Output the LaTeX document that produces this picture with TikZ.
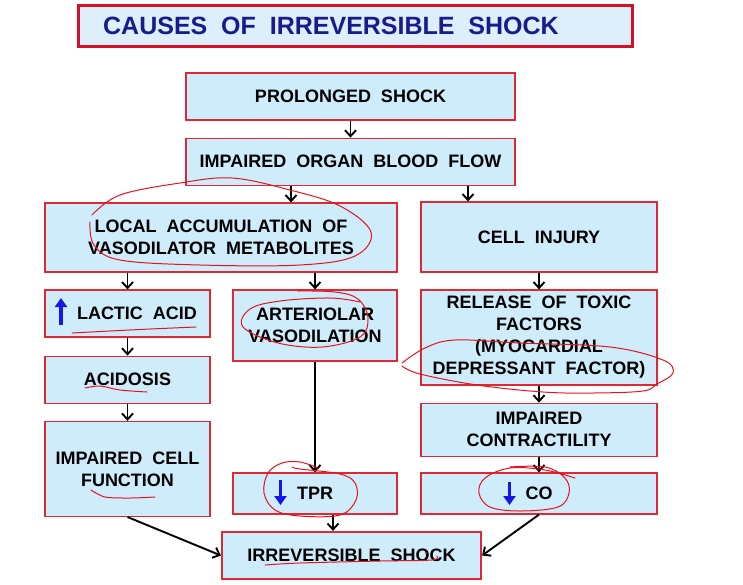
\documentclass[tikz,border=0pt]{standalone}
\usepackage{fontspec}
\setmainfont{Liberation Sans}[WordSpace=2]
\usepackage{xcolor}
\usepackage{tikz}
\usetikzlibrary{arrows.meta, positioning, calc}

\definecolor{boxfill}{RGB}{206,236,250}
\definecolor{titlefill}{RGB}{222,239,252}
\definecolor{boxred}{RGB}{222,40,52}
\definecolor{titlered}{RGB}{212,16,40}
\definecolor{navytext}{RGB}{26,26,140}
\definecolor{arrowblue}{RGB}{22,22,235}
\definecolor{penred}{RGB}{232,18,30}

\begin{document}
\begin{tikzpicture}[
    x=1pt, y=-1pt,
    box/.style={rectangle, draw=boxred, fill=boxfill, line width=1.2pt, inner sep=0pt, align=center, font=\bfseries\fontsize{18}{22}\selectfont},
    arrow/.style={-{Straight Barb[length=6pt,width=11pt]}, line width=1.9pt},
    bluearrow/.style={-{Triangle[length=9pt,width=12pt]}, line width=3.5pt, arrowblue},
    scribble/.style={penred, line width=1pt, line cap=round, line join=round}
]
\useasboundingbox[fill=white] (0,0) rectangle (743,584);

% titel
\node[box, draw=titlered, line width=3pt, fill=titlefill, text=navytext, minimum width=554pt, minimum height=41pt, font=\bfseries\fontsize{25}{30}\selectfont] (title) at (355,25.5) {CAUSES OF IRREVERSIBLE SHOCK\hspace*{48pt}};

% middle column
\node[box, minimum width=329pt, minimum height=47pt] (prolonged) at (350.5,96.5) {PROLONGED SHOCK};
\node[box, minimum width=329pt, minimum height=47pt, below=17pt of prolonged] (organ) {IMPAIRED ORGAN BLOOD FLOW};

% left branch
\node[box, minimum width=352pt, minimum height=69pt] (metab) at (221,237.5) {LOCAL ACCUMULATION OF\\VASODILATOR METABOLITES};
\node[box, minimum width=165pt, minimum height=47pt] (lactic) at (127.5,313.5) {\hspace*{19pt}LACTIC ACID};
\node[box, minimum width=165pt, minimum height=47pt, below=18pt of lactic] (acidosis) {ACIDOSIS};
\node[box, minimum width=165pt, minimum height=95pt, below=17pt of acidosis] (cellfn) {IMPAIRED CELL\\FUNCTION};
\node[box, minimum width=164pt, minimum height=71pt] (arteriolar) at (315,325.5) {ARTERIOLAR\\VASODILATION};
\node[box, minimum width=164pt, minimum height=41pt] (tpr) at (315,493.5) {TPR};

% right branch
\node[box, minimum width=236pt, minimum height=70pt] (injury) at (539,237) {CELL INJURY};
\node[box, minimum width=236pt, minimum height=95pt] (toxic) at (539,337.5) {RELEASE OF TOXIC\\FACTORS\\(MYOCARDIAL\\DEPRESSANT FACTOR)};
\node[box, minimum width=236pt, minimum height=53pt, below=17pt of toxic] (contract) {IMPAIRED\\CONTRACTILITY};
\node[box, minimum width=236pt, minimum height=41pt] (co) at (539,493.5) {CO};

% end
\node[box, line width=2.2pt, minimum width=259pt, minimum height=47pt] (irrev) at (351.5,555.5) {IRREVERSIBLE SHOCK};

% blue up / down marks
\draw[bluearrow] ($(lactic.center)+(-66.5,11.5)$) -- ($(lactic.center)+(-66.5,-15.5)$);
\draw[bluearrow] ($(tpr.center)+(-34.5,-13.5)$) -- ($(tpr.center)+(-34.5,11.5)$);
\draw[bluearrow] ($(co.center)+(-29.5,-11.5)$) -- ($(co.center)+(-29.5,11.5)$);

% arrows
\coordinate (o1) at ([xshift=-59.5pt]organ.south);
\coordinate (o2) at ([xshift=117.5pt]organ.south);
\coordinate (t1) at ([xshift=18pt]tpr.south);
\draw[arrow] (prolonged) -- (organ);
\draw[arrow] (o1) -- (o1 |- metab.north);
\draw[arrow] (o2) -- (o2 |- injury.north);
\draw[arrow] (metab.south -| lactic.north) -- (lactic.north);
\draw[arrow] (metab.south -| arteriolar.north) -- (arteriolar.north);
\draw[arrow] (lactic) -- (acidosis);
\draw[arrow] (acidosis) -- (cellfn);
\draw[arrow] (arteriolar) -- (tpr);
\draw[arrow] (injury) -- (toxic);
\draw[arrow] (toxic) -- (contract);
\draw[arrow] (contract) -- (co);
\draw[arrow] (t1) -- (t1 |- irrev.north);
\draw[arrow] (cellfn.south) -- (irrev.west);
\draw[arrow] (co.south) -- (irrev.east);

% pen marks
\draw[scribble] plot[smooth, tension=0.6] coordinates {(92,215) (120,195) (180,183) (232,178) (290,190) (340,206) (371,232) (355,256) (300,265) (200,265) (120,260) (94,245) (90,222)};
\draw[scribble] plot[smooth] coordinates {(72,333) (110,331) (150,329) (196,327)};
\draw[scribble] plot[smooth, tension=0.6] coordinates {(298,291) (335,292) (358,299) (368,318) (360,337) (322,347) (278,343) (243,327) (250,309) (280,301) (330,298) (360,302)};
\draw[scribble] plot[smooth, tension=0.6] coordinates {(402,363) (425,348) (455,340) (520,343) (610,347) (663,360) (673,373) (657,384) (643,391) (593,393) (543,392) (477,385) (420,374) (402,366)};
\draw[scribble] plot[smooth] coordinates {(85,388) (100,386) (120,390) (147,392)};
\draw[scribble] plot[smooth] coordinates {(91,490) (105,497) (130,498) (155,497)};
\draw[scribble] plot[smooth, tension=0.6] coordinates {(318,468) (300,462) (282,463) (268,473) (264,493) (275,510) (300,516) (340,515) (356,500) (355,483) (340,474) (300,469) (292,467)};
\draw[scribble] plot[smooth, tension=0.6] coordinates {(575,478) (545,470) (510,468) (485,478) (479,493) (490,507) (520,511) (558,507) (569,493) (565,478) (545,467) (510,467)};
\draw[scribble] plot[smooth] coordinates {(265,565) (300,563) (380,561) (432,560) (437,556)};
\fill[penred] (426,553) circle (1.2pt);

\end{tikzpicture}
\end{document}
